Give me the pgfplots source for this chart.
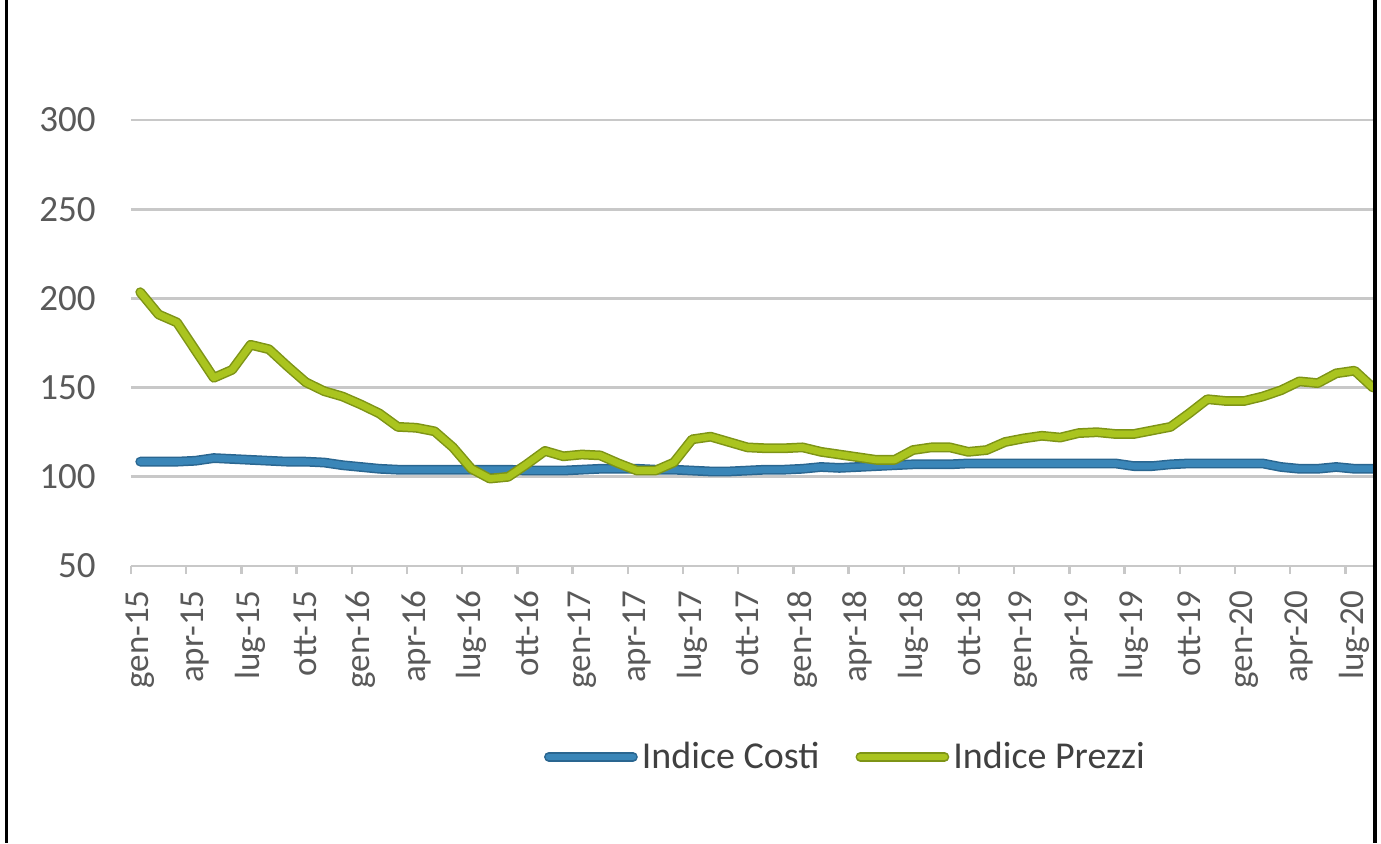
\documentclass[border=0pt]{standalone}
\usepackage{fontspec}
\setmainfont{Carlito}
\usepackage{pgfplots}
\pgfplotsset{compat=1.18}
\definecolor{costi}{HTML}{3A86B8}
\definecolor{costiD}{HTML}{2A6690}
\definecolor{prezzi}{HTML}{AAC41F}
\definecolor{prezziD}{HTML}{7E9416}
\definecolor{gridc}{HTML}{C8C8C8}
\definecolor{lab}{HTML}{595959}
\definecolor{legt}{HTML}{404040}
\begin{document}
\begin{tikzpicture}[x=1pt,y=1pt]
\useasboundingbox (-65.5,-138.5) rectangle (625,283);
\begin{axis}[
  at={(0,0)}, anchor=south west,
  scale only axis, width=621pt, height=223pt,
  xmin=-0.5, xmax=67, ymin=50, ymax=300,
  clip=true,
  axis lines*=left,
  y axis line style={draw=none},
  x axis line style={draw=gridc, line width=1.4pt},
  ytick={50,100,...,300},
  ymajorgrids,
  grid style={draw=gridc, line width=1.4pt},
  xtick={0,3,...,66},
  xticklabels={gen-15,apr-15,lug-15,ott-15,gen-16,apr-16,lug-16,ott-16,gen-17,apr-17,lug-17,ott-17,gen-18,apr-18,lug-18,ott-18,gen-19,apr-19,lug-19,ott-19,gen-20,apr-20,lug-20},
  minor xtick={-0.5,2.5,...,65.5},
  major tick length=0pt,
  minor tick length=4pt,
  tick align=outside,
  minor x tick style={draw=gridc, line width=1.2pt},
  /pgf/number format/assume math mode=true,
  yticklabel style={font=\fontsize{18.5}{18.5}\selectfont, text=lab, anchor=east, inner sep=0pt, xshift=-17.5pt},
  xticklabel style={font=\fontsize{17.5}{17.5}\selectfont, text=lab, rotate=90, anchor=east, inner sep=0pt},
  xticklabel shift=12pt,
  legend image code/.code={\draw[#1] (0pt,0pt) -- (42pt,0pt);},
  legend columns=2,
  legend style={at={(0.576,-0.428)}, anchor=center, draw=none, fill=none,
    font=\fontsize{19}{19}\selectfont, text=legt,
    /tikz/every even column/.append style={column sep=16pt},
    cells={anchor=west}, nodes={inner sep=2pt}},
]
\addplot[draw=costi, line width=3.4pt, line join=round, line cap=round,
  preaction={draw=costiD, line width=4.9pt, line join=round, line cap=round}]
coordinates {
(0,108.5)(1,108.5)(2,108.5)(3,109)(4,110.5)(5,110)(6,109.5)(7,109)(8,108.5)(9,108.5)
(10,108)(11,106.5)(12,105.5)(13,104.5)(14,104)(15,104)(16,104)(17,104)(18,104)(19,104)
(20,104)(21,103.5)(22,103.5)(23,103.5)(24,104)(25,104.5)(26,104.5)(27,104.5)(28,104)(29,104)
(30,103.5)(31,103)(32,103)(33,103.5)(34,104)(35,104)(36,104.5)(37,105.5)(38,105)(39,105.5)
(40,106)(41,106.5)(42,107)(43,107)(44,107)(45,107.5)(46,107.5)(47,107.5)(48,107.5)(49,107.5)
(50,107.5)(51,107.5)(52,107.5)(53,107.5)(54,106)(55,106)(56,107)(57,107.5)(58,107.5)(59,107.5)
(60,107.5)(61,107.5)(62,105.5)(63,104.5)(64,104.5)(65,105.5)(66,104.5)(67,104.5)
};
\addlegendentry{Indice Costi}
\addplot[draw=prezzi, line width=3.4pt, line join=round, line cap=round,
  preaction={draw=prezziD, line width=4.9pt, line join=round, line cap=round}]
coordinates {
(0,203.5)(1,191)(2,186.5)(3,171)(4,155.5)(5,160)(6,174)(7,171.5)(8,162)(9,153)
(10,148)(11,145)(12,140.5)(13,135.5)(14,128)(15,127.5)(16,125.5)(17,116.5)(18,104.5)(19,99)
(20,100)(21,107)(22,114.5)(23,111.5)(24,112.5)(25,112)(26,107.5)(27,103.5)(28,103.5)(29,108)
(30,121)(31,122.5)(32,119.5)(33,116.5)(34,116)(35,116)(36,116.5)(37,114)(38,112.5)(39,111)
(40,109.5)(41,109.5)(42,115)(43,116.5)(44,116.5)(45,114)(46,115)(47,119.5)(48,121.5)(49,123)
(50,122)(51,124.5)(52,125)(53,124)(54,124)(55,126)(56,128)(57,135.5)(58,143.5)(59,142.5)
(60,142.5)(61,145)(62,148.5)(63,153.5)(64,152.5)(65,158)(66,159.5)(67,150)
};
\addlegendentry{Indice Prezzi}
\end{axis}
\fill[black] (-63,-138.5) rectangle (-61.5,283);
\fill[black] (621.2,-138.5) rectangle (623.2,283);
\end{tikzpicture}
\end{document}
